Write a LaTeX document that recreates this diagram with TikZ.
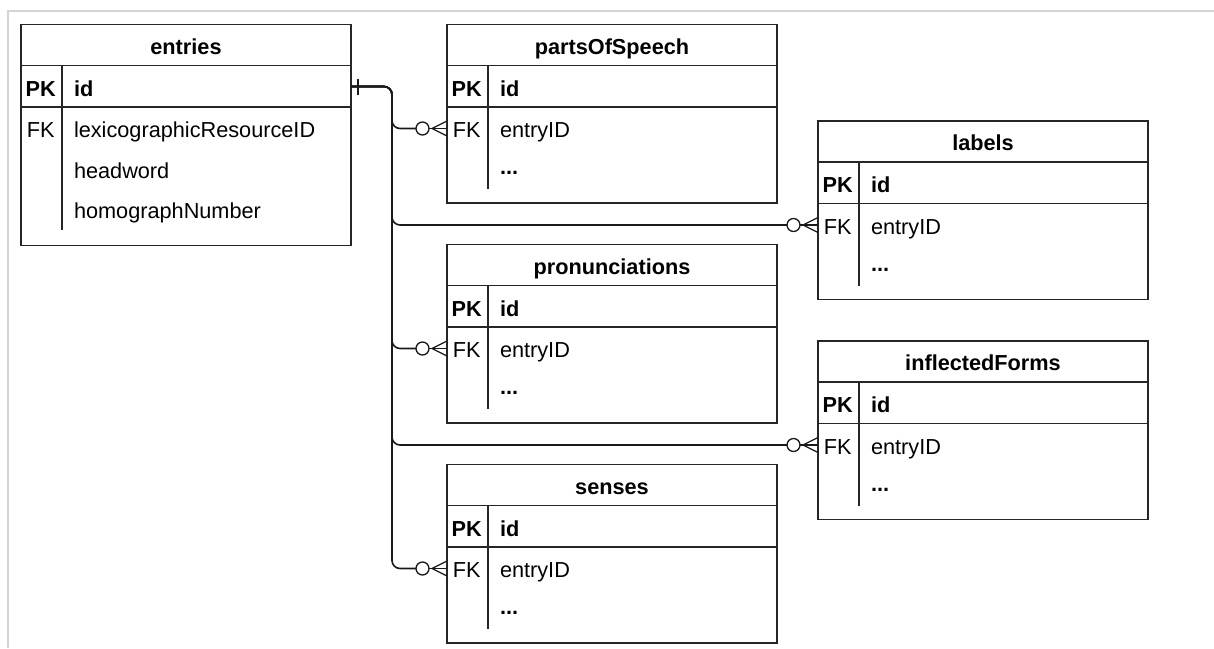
\documentclass[tikz,border=0pt]{standalone}
\usepackage{fontspec}
\setmainfont{Liberation Sans}
\usetikzlibrary{calc}
\tikzset{
  tbl/.style={draw=black!85, line width=1.5pt, fill=white, minimum width=330pt, anchor=north west, inner sep=0pt, outer sep=0pt},
  sepline/.style={draw=black!85, line width=1.5pt},
  txt/.style={inner sep=0pt, outer sep=0pt, font=\fontsize{21.7}{26}\selectfont},
  titletxt/.style={txt, anchor=base, font=\fontsize{21.7}{26}\selectfont\bfseries},
  keytxt/.style={txt, anchor=base},
  fieldtxt/.style={txt, anchor=base west},
  dotstxt/.style={txt, anchor=base west, font=\fontsize{21.7}{26}\selectfont\bfseries},
  conn/.style={draw=black!90, line width=1.6pt},
  frame/.style={draw=black!17, line width=2pt},
}
\newcommand\ertable[7]{% name, x, y, title, height, divider end, extra rows
  \begin{scope}[shift={(#2,#3)}]
    \node[tbl, minimum height=#5pt] (#1) at (0,0) {};
    \draw[sepline] (0,41) -- (330,41);
    \draw[sepline] (0,82.5) -- (330,82.5);
    \draw[sepline] (41,41) -- (41,#6);
    \node[titletxt] (#1-title) at (165,29.6) {#4};
    \node[keytxt, font=\fontsize{21.7}{26}\selectfont\bfseries] (#1-pk) at (19.75,71.5) {PK};
    \node[fieldtxt, font=\fontsize{21.7}{26}\selectfont\bfseries] (#1-id) at (53,71.5) {id};
    \node[keytxt] (#1-fk) at (19.75,113.3) {FK};
    \coordinate (#1-pkR) at (330,62);
    \coordinate (#1-fkL) at (0,104);
    #7
  \end{scope}}
\begin{document}
\begin{tikzpicture}[x=1pt, y=-1pt]
  \useasboundingbox (0,0) rectangle (1214,648);
  \draw[frame] (1214,11) -- (8,11) -- (8,648);

  \ertable{entries}{21}{24.5}{entries}{221}{205.7}{%
    \node[fieldtxt] (entries-f1) at (53,113.3) {lexicographicResourceID};
    \node[fieldtxt] (entries-f2) at (53,153.8) {headword};
    \node[fieldtxt] (entries-f3) at (53,194.3) {homographNumber};}
  \ertable{pos}{447}{24.5}{partsOfSpeech}{178.5}{164.6}{%
    \node[fieldtxt] (pos-f1) at (53,113.3) {entryID};
    \node[dotstxt] (pos-f2) at (53,150) {...};}
  \ertable{labels}{818}{121}{labels}{178.5}{164.6}{%
    \node[fieldtxt] (labels-f1) at (53,113.3) {entryID};
    \node[dotstxt] (labels-f2) at (53,150) {...};}
  \ertable{pron}{447}{244.5}{pronunciations}{178.5}{164.6}{%
    \node[fieldtxt] (pron-f1) at (53,113.3) {entryID};
    \node[dotstxt] (pron-f2) at (53,150) {...};}
  \ertable{infl}{818}{341}{inflectedForms}{178.5}{164.6}{%
    \node[fieldtxt] (infl-f1) at (53,113.3) {entryID};
    \node[dotstxt] (infl-f2) at (53,150) {...};}
  \ertable{senses}{447}{464.5}{senses}{178.5}{164.6}{%
    \node[fieldtxt] (senses-f1) at (53,113.3) {entryID};
    \node[dotstxt] (senses-f2) at (53,150) {...};}

  % one-side tick
  \draw[conn] ([xshift=7pt,yshift=8pt]entries-pkR) -- ([xshift=7pt,yshift=-8pt]entries-pkR);

  \foreach \t in {pos,labels,pron,infl,senses} {
    \draw[conn, rounded corners=8pt] (entries-pkR) -- ([xshift=41pt]entries-pkR) |- ([xshift=-31pt]\t-fkL);
    \draw[conn, fill=white, line width=1.3pt] ([xshift=-24.5pt]\t-fkL) circle[radius=6.5pt];
    \draw[conn, line width=1.3pt] ([xshift=-18pt]\t-fkL) -- (\t-fkL);
    \draw[conn, line width=1.3pt] ([xshift=-15pt]\t-fkL) -- ([yshift=7.5pt]\t-fkL);
    \draw[conn, line width=1.3pt] ([xshift=-15pt]\t-fkL) -- ([yshift=-7.5pt]\t-fkL);
  }
\end{tikzpicture}
\end{document}
